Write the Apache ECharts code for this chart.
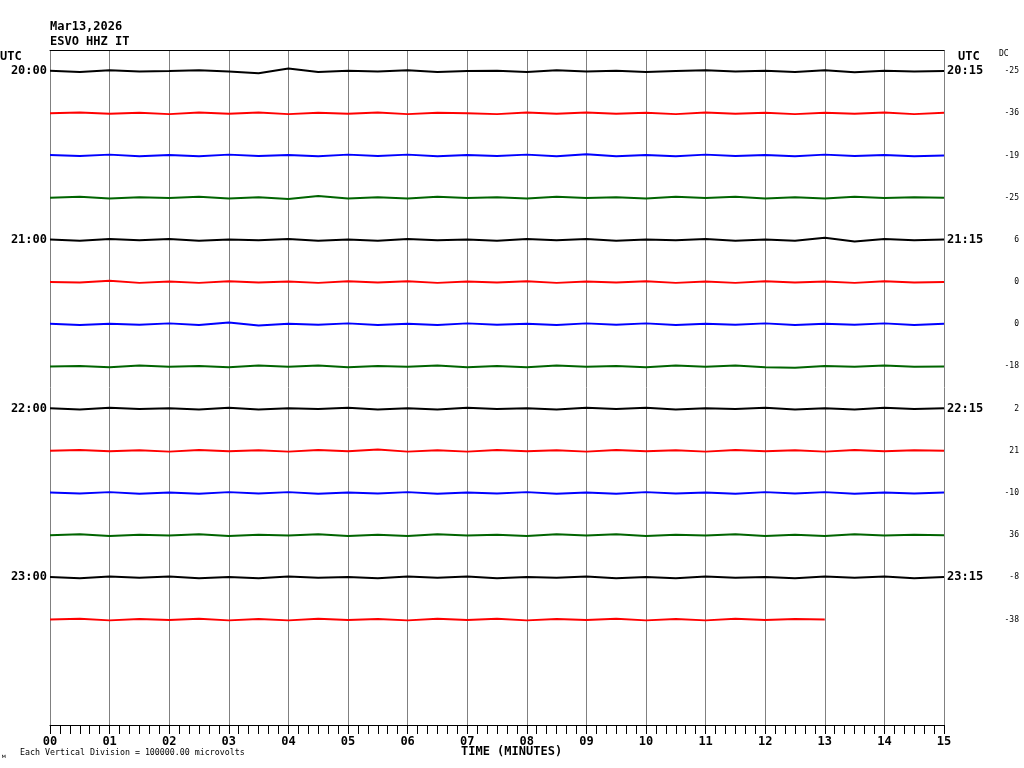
<!DOCTYPE html>
<html>
<head>
<meta charset="utf-8">
<script src="https://cdn.jsdelivr.net/npm/echarts@6/dist/echarts.min.js"></script>
<style>html,body{margin:0;padding:0;background:#fff}#c{width:1024px;height:768px}</style>
</head>
<body>
<div id="c"></div>
<script>
// Helicorder: ESVO HHZ IT, 15-minute rows, samples every 30 s (counts of 1000 microvolts)
const leftLabels = ['20:00','','','','21:00','','','','22:00','','','','23:00',''];
const rightLabels = ['20:15','','','','21:15','','','','22:15','','','','23:15',''];
const dcValues = ['-25','-36','-19','-25','6','0','0','-18','2','21','-10','36','-8','-38'];
const xTickLabels = ['00','01','02','03','04','05','06','07','08','09','10','11','12','13','14','15'];
const traceColors = ['#000000','#ff0000','#0000ff','#006400'];
const sampleStepMin = 0.5;
const countMicrovolts = 1000;
const divisionMicrovolts = 100000;

const t0  = [1,-2,2,-1,0,2,-1,-5,6,-2,1,-1,2,-2,0,1,-2,2,-1,1,-2,0,2,-1,1,-2,2,-3,1,-1,0];
const t1  = [0,2,-1,1,-2,2,-1,2,-2,1,-1,2,-2,1,0,-2,2,-1,2,-1,1,-2,2,-1,1,-2,1,-1,2,-2,1];
const t2  = [1,-1,2,-2,1,-2,2,-1,1,-2,2,-1,2,-2,1,-1,2,-2,3,-2,1,-2,2,-1,1,-2,2,-1,1,-2,0];
const t3  = [0,2,-2,1,-1,2,-2,1,-3,4,-2,1,-2,2,-1,1,-2,2,-1,1,-2,2,-1,2,-2,1,-2,2,-1,1,0];
const t4  = [1,-2,2,-1,2,-2,1,-1,2,-2,1,-2,2,-1,1,-2,2,-1,2,-2,1,-1,2,-2,1,-2,5,-4,2,-1,1];
const t5  = [0,-1,3,-2,1,-2,2,-1,1,-2,2,-1,2,-2,1,-1,2,-2,1,-1,2,-2,1,-2,2,-1,1,-2,2,-1,0];
const t6  = [1,-2,1,-1,2,-2,4,-3,1,-1,2,-2,1,-2,2,-1,1,-2,2,-1,2,-2,1,-1,2,-2,1,-1,2,-2,1];
const t7  = [0,1,-2,2,-1,1,-2,2,-1,2,-2,1,-1,2,-2,1,-2,2,-1,1,-2,2,-1,2,-2,-3,1,-1,2,-1,0];
const t8  = [1,-2,2,-1,1,-2,2,-2,1,-1,2,-2,1,-2,2,-1,1,-2,2,-1,2,-2,1,-1,2,-2,1,-2,2,-1,1];
const t9  = [0,2,-1,1,-2,2,-1,1,-2,2,-1,3,-2,1,-2,2,-1,1,-2,2,-1,1,-2,2,-1,1,-2,2,-1,1,0];
const t10 = [1,-1,2,-2,1,-2,2,-1,2,-2,1,-1,2,-2,1,-1,2,-2,1,-2,2,-1,1,-2,2,-1,2,-2,1,-1,1];
const t11 = [0,2,-2,1,-1,2,-2,1,-1,2,-2,1,-2,2,-1,1,-2,2,-1,2,-2,1,-1,2,-2,1,-2,2,-1,1,0];
const t12 = [1,-2,2,-1,2,-2,1,-2,2,-1,1,-2,2,-1,2,-2,1,-1,2,-2,1,-2,2,-1,1,-2,2,-1,2,-2,1];
const t13 = [0,2,-2,1,-1,2,-2,1,-2,2,-1,1,-2,2,-1,2,-2,1,-1,2,-2,1,-2,2,-1,1,0];
const traces = [t0,t1,t2,t3,t4,t5,t6,t7,t8,t9,t10,t11,t12,t13];

const FONT = 'DejaVu Sans Mono';
const series = traces.map((tr, row) => ({
  type: 'line',
  xAxisIndex: 0,
  yAxisIndex: 0,
  showSymbol: false,
  silent: true,
  animation: false,
  lineStyle: { color: traceColors[row % 4], width: 2 },
  data: tr.map((c, k) => [k * sampleStepMin, row + 0.5 - c * countMicrovolts / divisionMicrovolts])
}));

function rowLabel(arr) {
  return function (v) {
    const r = v - 0.5;
    if (Math.abs(r - Math.round(r)) > 1e-6) return '';
    const i = Math.round(r);
    return (i >= 0 && i < arr.length) ? arr[i] : '';
  };
}

const chart = echarts.init(document.getElementById('c'), null, { renderer: 'canvas' });
chart.setOption({
  animation: false,
  backgroundColor: '#ffffff',
  grid: { left: 50, right: 80, top: 50, bottom: 43 },
  xAxis: [{
    type: 'value', min: 0, max: 15, interval: 1, position: 'bottom',
    axisLine: { show: true, onZero: false, lineStyle: { color: '#000', width: 1 } },
    axisTick: { show: true, length: 9, lineStyle: { color: '#000' } },
    minorTick: { show: true, splitNumber: 6, length: 9, lineStyle: { color: '#000' } },
    splitLine: { show: true, lineStyle: { color: '#808080', width: 1 } },
    axisLabel: {
      margin: 11, color: '#000', fontFamily: FONT, fontWeight: 'bold', fontSize: 12,
      formatter: v => xTickLabels[Math.round(v)] || ''
    }
  }, {
    type: 'value', min: 0, max: 15, position: 'top',
    axisLine: { show: true, onZero: false, lineStyle: { color: '#000', width: 1 } },
    axisTick: { show: false }, minorTick: { show: false }, axisLabel: { show: false }, splitLine: { show: false }
  }],
  yAxis: [{
    type: 'value', min: 0, max: 16, interval: 0.5, inverse: true, position: 'left',
    axisLine: { show: false, onZero: false }, axisTick: { show: false }, splitLine: { show: false },
    axisLabel: { margin: 3, color: '#000', fontFamily: FONT, fontWeight: 'bold', fontSize: 12, formatter: rowLabel(leftLabels) }
  }, {
    type: 'value', min: 0, max: 16, interval: 0.5, inverse: true, position: 'right',
    axisLine: { show: false, onZero: false }, axisTick: { show: false }, splitLine: { show: false },
    axisLabel: { margin: 3, color: '#000', fontFamily: FONT, fontWeight: 'bold', fontSize: 12, formatter: rowLabel(rightLabels) }
  }, {
    type: 'value', min: 0, max: 16, interval: 0.5, inverse: true, position: 'right',
    axisLine: { show: false, onZero: false }, axisTick: { show: false }, splitLine: { show: false },
    axisLabel: { margin: 75, align: 'right', color: '#000', fontFamily: FONT, fontSize: 8, formatter: rowLabel(dcValues) }
  }],
  series: series,
  graphic: [
    { type: 'text', left: 50, top: 21, style: { text: 'Mar13,2026', font: 'bold 12px "DejaVu Sans Mono"', fill: '#000' } },
    { type: 'text', left: 50, top: 36, style: { text: 'ESVO HHZ IT', font: 'bold 12px "DejaVu Sans Mono"', fill: '#000' } },
    { type: 'text', left: 0, top: 51, style: { text: 'UTC', font: 'bold 12px "DejaVu Sans Mono"', fill: '#000' } },
    { type: 'text', left: 958, top: 51, style: { text: 'UTC', font: 'bold 12px "DejaVu Sans Mono"', fill: '#000' } },
    { type: 'text', left: 999, top: 50, style: { text: 'DC', font: '8px "DejaVu Sans Mono"', fill: '#000' } },
    { type: 'text', left: 461, top: 746, style: { text: 'TIME (MINUTES)', font: 'bold 12px "DejaVu Sans Mono"', fill: '#000' } },
    { type: 'text', left: 20, top: 749, style: { text: 'Each Vertical Division = 100000.00 microvolts', font: '8.3px "DejaVu Sans Mono"', fill: '#000' } },
    { type: 'text', left: 2, top: 753, style: { text: 'м', font: '6px "DejaVu Sans Mono"', fill: '#000' } }
  ]
});
</script>
</body>
</html>
